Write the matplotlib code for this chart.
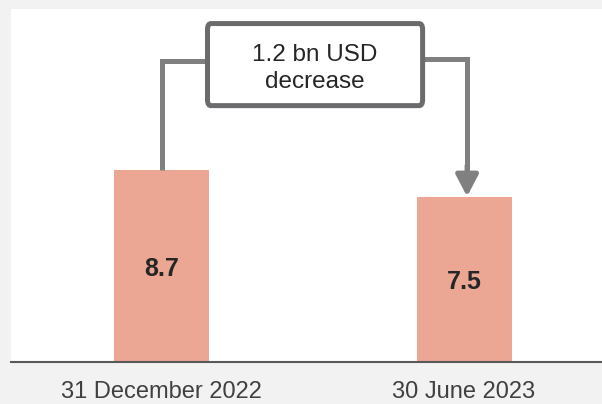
import matplotlib
matplotlib.use("Agg")
import matplotlib.pyplot as plt
from matplotlib.patches import FancyBboxPatch

plt.rcParams['font.family'] = ['Liberation Sans', 'DejaVu Sans']

# Balance at each reporting date, bn USD
categories = ["31 December 2022", "30 June 2023"]
values = [8.7, 7.5]
change_label = ["1.2 bn USD", "decrease"]

bar_color = "#EBA793"
link_color = "#808080"
box_color = "#6B6B6E"
text_color = "#262626"

fig = plt.figure(figsize=(6.02, 4.04), dpi=100, facecolor="#F2F2F2")
ax = fig.add_axes([11 / 602, 42 / 404, 591 / 602, 353 / 404])
ax.set_facecolor("white")

x = list(range(len(categories)))
bars = ax.bar(x, values, width=0.314, color=bar_color, zorder=2)

ax.set_xlim(-0.4975, 1.456)
ax.set_ylim(0, 16)

for xi, v in zip(x, values):
    ax.text(xi, v / 2 - 0.12, f"{v}", ha="center", va="center", fontsize=18,
            fontweight="bold", color=text_color, zorder=3)

ax.set_xticks(x)
ax.set_xticklabels(categories, fontsize=17, color="#404040")
ax.tick_params(axis="x", length=0, pad=13.5)
ax.set_yticks([])

for side in ("top", "left", "right"):
    ax.spines[side].set_visible(False)
ax.spines["bottom"].set_color("#595959")
ax.spines["bottom"].set_linewidth(1.5)

# Change annotation box
bx0, bx1 = 0.152, 0.863
by0, by1 = 11.62, 15.34
box = FancyBboxPatch((bx0, by0), bx1 - bx0, by1 - by0,
                     boxstyle="round,pad=0,rounding_size=0.012",
                     mutation_aspect=22,
                     facecolor="white", edgecolor=box_color,
                     linewidth=3.6, zorder=4)
ax.add_patch(box)
cx = (bx0 + bx1) / 2
ax.text(cx, 13.64, change_label[0], ha="center", va="baseline",
        fontsize=17.5, color=text_color, zorder=5)
ax.text(cx, 12.41, change_label[1], ha="center", va="baseline",
        fontsize=17.5, color=text_color, zorder=5)

# Connector from the first bar up to the box
ax.plot([0.0, 0.0, bx0], [values[0], 13.64, 13.64], color=link_color,
        linewidth=3.6, solid_joinstyle="miter", solid_capstyle="butt", zorder=3)

# Connector from the box down to the second bar, with arrow
rx = 1.01
ax.plot([bx1, rx, rx], [13.73, 13.73, values[1] + 1.0], color=link_color,
        linewidth=3.6, solid_joinstyle="miter", solid_capstyle="butt", zorder=3)
ax.annotate("", xy=(rx, values[1]), xytext=(rx, values[1] + 1.4),
            arrowprops=dict(arrowstyle="-|>,head_length=1.3,head_width=0.68",
                            color=link_color, linewidth=3.6,
                            shrinkA=0, shrinkB=0),
            zorder=3)

fig.savefig("out.png", dpi=100, facecolor=fig.get_facecolor())
